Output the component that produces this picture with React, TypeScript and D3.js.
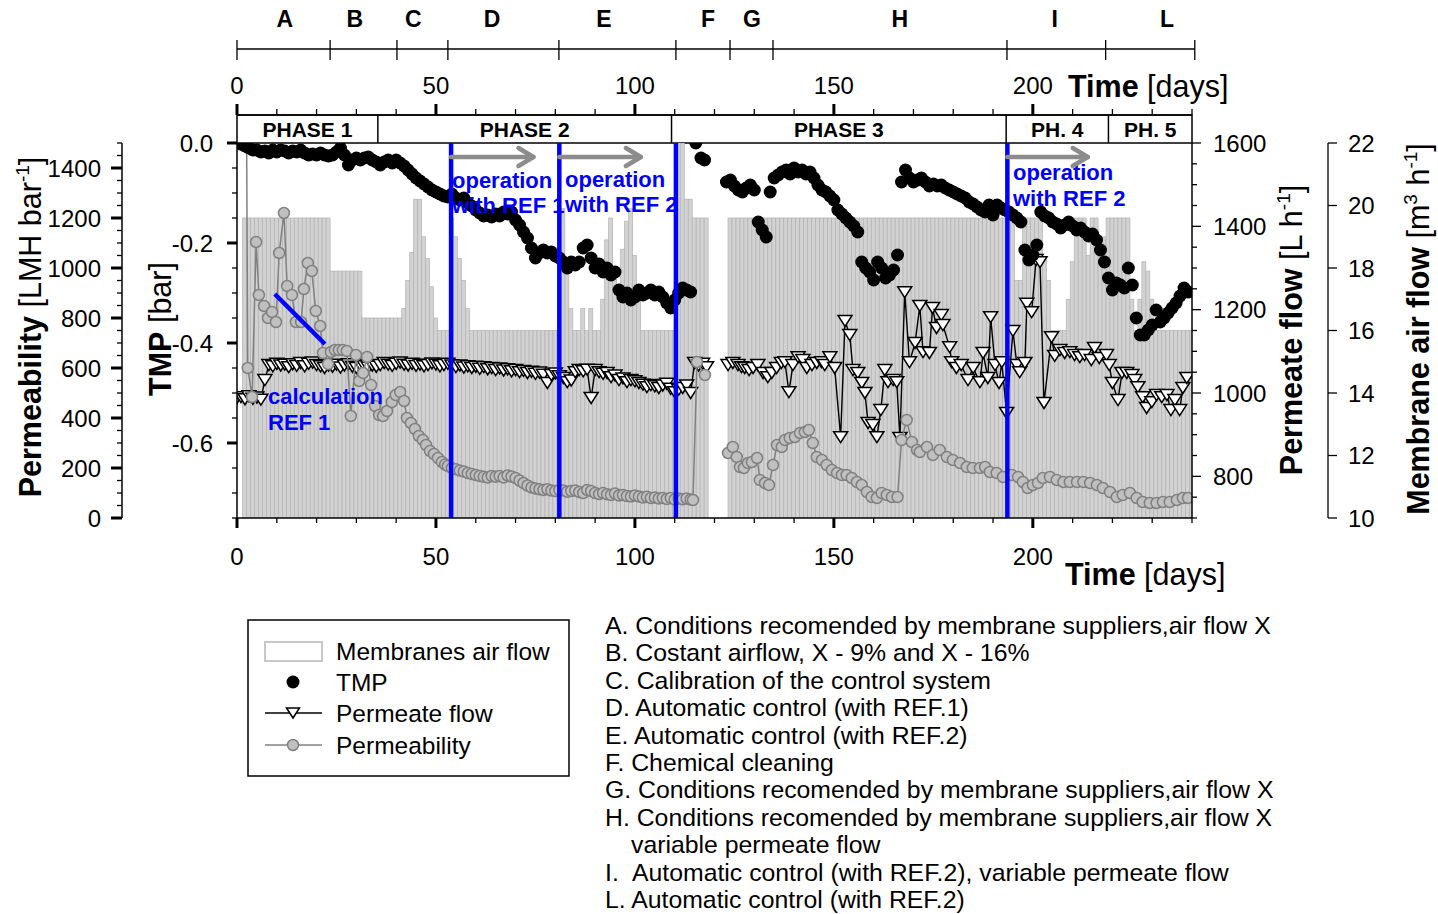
import React from "react";
import * as d3 from "d3";

const FONT = "'Liberation Sans', Arial, Helvetica, sans-serif";

// membrane air flow bars [first day, last day, m3/h]
const airFlowRuns: [number, number, number][] = [
  [1, 22, 19.6], [23, 30, 17.9], [31, 40, 16.4], [41, 41, 16.7], [42, 42, 17.6], [43, 43, 18.5],
  [44, 45, 20.2], [46, 46, 19.0], [47, 47, 18.3], [48, 48, 17.4], [49, 49, 16.4], [50, 52, 16.0],
  [53, 53, 19.6], [54, 54, 19.0], [55, 55, 18.3], [56, 56, 17.6], [57, 57, 16.7], [58, 80, 16.0],
  [81, 81, 19.9], [82, 82, 17.8], [83, 83, 16.7], [84, 85, 16.0], [86, 86, 16.7], [87, 87, 16.0],
  [88, 88, 16.7], [89, 90, 16.0], [91, 91, 17.0], [92, 92, 18.9], [93, 93, 19.6], [94, 94, 17.7],
  [95, 95, 17.4], [96, 96, 18.6], [97, 97, 19.5], [98, 98, 19.9], [99, 99, 18.4], [100, 100, 17.4],
  [101, 109, 16.0], [110, 111, 22.0], [112, 113, 20.2], [114, 117, 19.6],
  [123, 194, 19.6], [195, 196, 17.6], [197, 201, 19.6], [202, 202, 18.3], [203, 203, 17.6],
  [204, 207, 16.0], [208, 208, 17.0], [209, 209, 18.2], [210, 212, 19.6], [213, 213, 18.4],
  [214, 215, 19.6], [216, 217, 19.0], [218, 223, 19.6], [224, 224, 17.0], [225, 225, 16.0],
  [226, 226, 17.0], [227, 227, 18.2], [228, 228, 17.9], [229, 229, 17.0], [230, 239, 16.0],
];

// TMP [bar], daily from day 0
const tmpBefore = [
  0, -0.002, -0.006, -0.01, -0.014, -0.014, -0.018, -0.016, -0.02, -0.014,
  -0.018, -0.014, -0.016, -0.02, -0.016, -0.018, -0.014, -0.02, -0.024, -0.022,
  -0.024, -0.02, -0.024, -0.026, -0.024, -0.018, -0.01, -0.024, -0.044, -0.034,
  -0.03, -0.034, -0.03, -0.028, -0.034, -0.038, -0.044, -0.038, -0.034, -0.04,
  -0.034, -0.04, -0.046, -0.054, -0.062, -0.07, -0.076, -0.082, -0.088, -0.094,
  -0.098, -0.102, -0.106, -0.108, -0.102, -0.11, -0.114, -0.11, -0.12, -0.126,
  -0.134, -0.14, -0.146, -0.144, -0.148, -0.142, -0.146, -0.138, -0.142, -0.138,
  -0.154, -0.164, -0.178, -0.19, -0.21, -0.23, -0.22, -0.214, -0.22, -0.218,
  -0.226, -0.23, -0.238, -0.25, -0.238, -0.244, -0.238, -0.21, -0.204, -0.23,
  -0.25, -0.242, -0.258, -0.25, -0.264, -0.258, -0.294, -0.308, -0.3, -0.314,
  -0.308, -0.294, -0.304, -0.3, -0.294, -0.304, -0.298, -0.308, -0.32, -0.33,
  -0.314, -0.3, -0.29, -0.294, -0.298,
];
const tmpCleaning: [number, number][] = [[115.3, 0], [116.6, -0.03], [117.5, -0.034]];
// TMP [bar], daily from day 123
const tmpAfter = [
  -0.078, -0.074, -0.086, -0.094, -0.098, -0.09, -0.084, -0.094, -0.158, -0.174,
  -0.188, -0.098, -0.07, -0.064, -0.058, -0.054, -0.062, -0.05, -0.058, -0.054,
  -0.062, -0.058, -0.07, -0.084, -0.094, -0.098, -0.106, -0.114, -0.134, -0.142,
  -0.15, -0.158, -0.166, -0.178, -0.238, -0.25, -0.258, -0.274, -0.238, -0.25,
  -0.27, -0.264, -0.254, -0.224, -0.078, -0.054, -0.07, -0.078, -0.074, -0.07,
  -0.078, -0.086, -0.082, -0.086, -0.084, -0.09, -0.094, -0.098, -0.102, -0.106,
  -0.11, -0.118, -0.122, -0.128, -0.134, -0.138, -0.124, -0.144, -0.124, -0.13,
  -0.134, -0.138, -0.144, -0.15, -0.158, -0.214, -0.234, -0.224, -0.204, -0.138,
  -0.146, -0.15, -0.158, -0.162, -0.17, -0.164, -0.158, -0.166, -0.174, -0.17,
  -0.178, -0.186, -0.182, -0.194, -0.214, -0.238, -0.27, -0.294, -0.28, -0.284,
  -0.29, -0.25, -0.284, -0.35, -0.384, -0.384, -0.374, -0.364, -0.334, -0.358,
  -0.35, -0.34, -0.33, -0.32, -0.306, -0.29, -0.298,
];

// permeate flow [L/h], daily from day 0
const permeateBefore = [
  988, 990, 985, 992, 986, 989, 984, 1031, 1067, 1064,
  1070, 1066, 1068, 1062, 1069, 1065, 1072, 1064, 1070, 1073,
  1067, 1064, 1060, 1066, 1063, 1068, 1061, 1066, 1069, 1063,
  1060, 1067, 1064, 1061, 1066, 1063, 1067, 1072, 1068, 1065,
  1070, 1073, 1068, 1066, 1070, 1065, 1068, 1064, 1067, 1071,
  1068, 1064, 1067, 1070, 1066, 1062, 1066, 1061, 1064, 1060,
  1063, 1058, 1062, 1057, 1060, 1055, 1059, 1054, 1057, 1052,
  1055, 1050, 1053, 1048, 1051, 1046, 1049, 1044, 1024, 1043,
  1047, 1040, 1036, 1026, 1030, 1050, 1055, 1052, 1056, 988,
  1055, 1050, 1046, 1048, 1038, 1042, 1031, 1035, 1026, 1031,
  1028, 1024, 1020, 1014, 1019, 1016, 1012, 1018, 1022, 1010,
  1002, 1008, 1012, 1018, 1000, 1072, 1066, 1070, 1062,
];
// permeate flow [L/h], phases 3-5 [day, value]
const permeateAfter: [number, number][] = [
  [123.4, 1067], [124.6, 1072], [125.9, 1067], [126.8, 1062], [127.6, 1060], [128.7, 1055],
  [129.7, 1060], [130.9, 1067], [132.2, 1048], [133.4, 1038], [134.4, 1048], [135.6, 1060],
  [136.8, 1072], [137.7, 1074], [138.7, 1002], [139.7, 1067], [141, 1086], [142.2, 1079],
  [143.2, 1060], [144.5, 1067], [145.7, 1072], [146.9, 1074], [147.7, 1067], [149, 1086],
  [150.2, 1060], [151.7, 894], [152.8, 1173], [154, 1139], [154.8, 1055], [156, 1048],
  [157, 1024], [157.8, 1000], [158.6, 928], [159.8, 923], [160.8, 894], [161.8, 959],
  [162.8, 1055], [163.6, 1026], [164.9, 1031], [165.8, 1026], [166.6, 892], [167.8, 1242],
  [169, 1074], [170.4, 1120], [171.6, 1209], [172.4, 1098], [174, 1096], [174.8, 1204],
  [175.8, 1156], [177, 1187], [177.4, 1163], [179.1, 1110], [179.6, 1074], [180.8, 1060],
  [182, 1067], [183.7, 1031], [185, 1060], [186.7, 1026], [187.5, 1096], [188.7, 1036],
  [189.4, 1182], [190.5, 1067], [191.5, 1024], [192.2, 1074], [193.4, 952], [195, 1149],
  [196, 1067], [196.7, 1050], [198, 1072], [198.5, 1214], [199.7, 1194], [200.8, 1319],
  [201.8, 1314], [202.8, 976], [204.7, 1134], [205.5, 1089], [206.8, 1103], [208, 1096],
  [209.3, 1098], [210.5, 1091], [211.8, 1086], [213, 1091], [214.7, 1079], [215.5, 1108],
  [216.7, 1084], [218.5, 1091], [219.2, 1067], [220, 1024], [221.4, 983], [222.4, 1048],
  [223.6, 1048], [224.9, 1043], [225.6, 1031], [226.4, 1014], [227.6, 990], [228.6, 964],
  [229.9, 978], [231.1, 995], [232.4, 990], [233.7, 995], [234.7, 959], [235.7, 983],
  [236.9, 959], [237.7, 1012], [238.7, 1036],
];

// permeability [LMH/bar], phase 1 [day, value]
const permeabilityStart: [number, number][] = [
  [2.3, 1900], [2.7, 600], [3.8, 484], [4.8, 1104], [5.5, 892], [6.8, 848], [7.8, 800],
  [8.8, 824], [9.8, 784], [10.6, 1060], [11.8, 1220], [12.6, 928], [13.8, 892], [14.8, 784],
  [16.1, 784], [16.8, 916], [17.8, 1020], [18.8, 988], [19.8, 828], [20.9, 768], [21.6, 660],
  [22.9, 616], [23.6, 664], [24.6, 672], [25.6, 672], [26.6, 672], [27.6, 668], [28.6, 408],
  [29.9, 652], [30.7, 548], [31.7, 580], [32.7, 644], [33.7, 532], [34.7, 448], [35.7, 412],
  [36.7, 408], [37.7, 428], [38.9, 464], [39.9, 492], [41, 504], [42, 468], [42.7, 400],
  [43.7, 380], [44.7, 356], [45.7, 328], [46.7, 312], [47.5, 292], [48.5, 268], [49.5, 256],
  [50.5, 240], [51.5, 224], [52.3, 214],
];
// permeability, daily from day 53
const permeabilityDaily = [
  208, 200, 195, 190, 186, 180, 176, 172, 168, 165,
  162, 168, 165, 168, 162, 170, 166, 160, 150, 140,
  130, 122, 118, 115, 112, 115, 110, 108, 112, 110,
  105, 108, 110, 104, 100, 112, 108, 100, 96, 100,
  95, 92, 98, 90, 92, 88, 86, 90, 86, 82,
  85, 80, 82, 78, 80, 76, 80, 74, 78, 75,
  78, 74,
];
const permeabilityCleaning: [number, number][] = [[114.6, 72], [115.6, 624], [117.6, 572]];
const permeabilityAfter: [number, number][] = [
  [123.4, 260], [124.6, 284], [125.6, 244], [126.4, 204], [127.4, 200], [128.4, 220],
  [129.4, 224], [130.7, 240], [131.4, 152], [132.7, 140], [133.7, 132], [134.7, 212],
  [135.7, 292], [136.9, 284], [137.7, 312], [138.9, 320], [140.2, 324], [141.5, 340],
  [142.7, 344], [143.7, 352], [144.7, 300], [145.7, 244], [147, 232], [148.2, 212],
  [149.5, 192], [150.8, 180], [152, 172], [153.2, 172], [154.5, 160], [155.8, 144],
  [157, 132], [158.3, 104], [159.5, 84], [160.8, 80], [162, 100], [163.3, 92],
  [164.6, 84], [166, 84], [167, 312], [168.3, 392], [169.6, 304], [170.9, 272],
  [171.6, 264], [173.4, 284], [174.9, 252], [176.6, 272], [178.4, 244], [179.9, 232],
  [181.7, 220], [183.4, 204], [184.9, 200], [186.7, 200], [188, 204], [189.2, 184],
  [190.9, 180], [192.5, 164], [194.7, 172], [196.3, 164], [197.5, 144], [198.7, 120],
  [200, 132], [201.3, 140], [202.5, 160], [204.3, 164], [206, 152], [207.7, 144],
  [209.3, 144], [211.1, 144], [212.7, 144], [214.4, 140], [216.1, 132], [217.6, 120],
  [219.4, 104], [221.1, 84], [222.6, 92], [224.4, 100], [226.1, 80], [227.6, 64],
  [229.4, 60], [231.1, 60], [232.7, 64], [234.4, 64], [236.2, 72], [237.7, 80], [239, 80],
];

// period letters on the top scale
const periodBounds = [0, 23.4, 40.2, 53.0, 80.9, 110.3, 123.9, 134.7, 193.5, 218.3, 240.7];
const periodLetters = ["A", "B", "C", "D", "E", "F", "G", "H", "I", "L"];
const periodLabelDays = [12, 29.6, 44.3, 64.1, 92.2, 118.4, 129.4, 166.6, 205.5, 233.7];

const phaseBounds = [0, 35.4, 109.2, 193.3, 219.0, 240];
const phaseNames = ["PHASE 1", "PHASE 2", "PHASE 3", "PH. 4", "PH. 5"];

const refLineDays = [53.8, 81.0, 110.3, 193.6];
const arrowSpans: [number, number][] = [[53.8, 74.5], [81.0, 101.5], [193.6, 213.8]];

const descriptions = [
  "A. Conditions recomended by membrane suppliers,air flow X",
  "B. Costant airflow, X - 9% and X - 16%",
  "C. Calibration of the control system",
  "D. Automatic control (with REF.1)",
  "E. Automatic control (with REF.2)",
  "F. Chemical cleaning",
  "G. Conditions recomended by membrane suppliers,air flow X",
  "H. Conditions recomended by membrane suppliers,air flow X",
  "variable permeate flow",
  "I.",
  "L. Automatic control (with REF.2)",
];

const L = 237, R = 1192, T = 143, B = 518;
const x = d3.scaleLinear().domain([0, 240]).range([L, R]);
const yTmp = d3.scaleLinear().domain([0, -0.75]).range([T, B]);
const yPerm = d3.scaleLinear().domain([0, 1500]).range([B, T]);
const yFlow = d3.scaleLinear().domain([700, 1600]).range([B, T]);
const yAir = d3.scaleLinear().domain([10, 22]).range([B, T]);

function splitGaps(pts: [number, number][]) {
  const out: [number, number][][] = [[]];
  pts.forEach((p, i) => {
    if (i > 0 && p[0] - pts[i - 1][0] > 3) out.push([]);
    out[out.length - 1].push(p);
  });
  return out;
}

const tri = "M-7,-5.5L7,-5.5L0,5.5Z";

export default function App() {
  const airBars: [number, number][] = [];
  airFlowRuns.forEach(([a, b, v]) => d3.range(a, b + 1).forEach((d) => airBars.push([d, v])));

  const tmpPts: [number, number][] = [
    ...tmpBefore.map((v, i) => [i, v] as [number, number]),
    ...tmpCleaning,
    ...tmpAfter.map((v, i) => [123 + i, v] as [number, number]),
  ];
  const permeatePts: [number, number][] = [
    ...permeateBefore.map((v, i) => [i, v] as [number, number]),
    ...permeateAfter,
  ];
  const permPts: [number, number][] = [
    ...permeabilityStart,
    ...permeabilityDaily.map((v, i) => [53 + i, v] as [number, number]),
    ...permeabilityCleaning,
    ...permeabilityAfter,
  ];

  const flowLine = d3.line<[number, number]>().x((d) => x(d[0])).y((d) => yFlow(d[1]));
  const permLine = d3.line<[number, number]>().x((d) => x(d[0])).y((d) => yPerm(d[1]));

  const dayTicks = d3.range(0, 241, 10);
  const tmpTicks = d3.range(0, 16).map((i) => -i * 0.05);
  const permTicks = d3.range(0, 1501, 50);
  const flowTicks = d3.range(700, 1601, 50);
  const airTicks = d3.range(10, 23, 2);

  const blue = "#0000ff";
  const arrowY = 157;
  const titleSize = 30.5;

  return (
    <svg width={1438} height={914} style={{ position: "absolute", left: 0, top: 0, background: "#fff" }} fontFamily={FONT}>
      <defs>
        <clipPath id="plot">
          <rect x={L} y={T} width={R - L} height={B - T} />
        </clipPath>
      </defs>

      {/* period scale */}
      <line x1={x(0)} x2={x(240.7)} y1={49} y2={49} stroke="#000" strokeWidth={1.3} />
      {periodBounds.map((d, i) => (
        <line key={i} x1={x(d)} x2={x(d)} y1={40} y2={60} stroke="#000" strokeWidth={1.3} />
      ))}
      {periodLetters.map((l, i) => (
        <text key={l} x={x(periodLabelDays[i])} y={27} fontSize={23} fontWeight="bold" textAnchor="middle">{l}</text>
      ))}

      {/* top time axis */}
      <line x1={L} x2={R} y1={115} y2={115} stroke="#000" strokeWidth={1.5} />
      {dayTicks.map((d) => (
        <line key={d} x1={x(d)} x2={x(d)} y1={115} y2={d % 50 === 0 ? 104 : 109} stroke="#000" strokeWidth={d % 50 === 0 ? 3 : 1.3} />
      ))}
      {dayTicks.filter((d) => d % 50 === 0).map((d) => (
        <text key={d} x={x(d)} y={94} fontSize={24} textAnchor="middle">{d}</text>
      ))}
      <text x={1068} y={97} fontSize={titleSize}>
        <tspan fontWeight="bold">Time</tspan><tspan> [days]</tspan>
      </text>

      {/* phase boxes */}
      <rect x={L} y={115} width={R - L} height={T - 115} fill="none" stroke="#000" strokeWidth={1.5} />
      {phaseBounds.slice(1, -1).map((d) => (
        <line key={d} x1={x(d)} x2={x(d)} y1={115} y2={T} stroke="#000" strokeWidth={1.5} />
      ))}
      {phaseNames.map((n, i) => (
        <text key={n} x={(x(phaseBounds[i]) + x(phaseBounds[i + 1])) / 2} y={137} fontSize={21} fontWeight="bold" textAnchor="middle">{n}</text>
      ))}

      <g clipPath="url(#plot)">
        {/* air flow bars */}
        {airBars.map(([d, v]) => (
          <rect key={d} x={x(d + 0.4)} y={yAir(v)} width={x(d + 1.4) - x(d + 0.4)} height={yAir(10) - yAir(v)}
            fill="#d2d2d2" stroke="#b3b3b3" strokeWidth={0.7} />
        ))}

        {/* permeate flow */}
        {splitGaps(permeatePts).map((s, i) => (
          <path key={i} d={flowLine(s) || ""} fill="none" stroke="#000" strokeWidth={1.4} />
        ))}
        {permeatePts.map(([d, v], i) => (
          <path key={i} d={tri} transform={`translate(${x(d)},${yFlow(v)})`} fill="#fff" stroke="#000" strokeWidth={1.5} />
        ))}

        {/* permeability */}
        {splitGaps(permPts).map((s, i) => (
          <path key={i} d={permLine(s) || ""} fill="none" stroke="#808080" strokeWidth={1.5} />
        ))}
        {permPts.map(([d, v], i) => (
          <circle key={i} cx={x(d)} cy={yPerm(v)} r={5.5} fill="#c0c0c0" stroke="#808080" strokeWidth={1.5} />
        ))}

        {/* TMP */}
        {tmpPts.map(([d, v], i) => (
          <circle key={i} cx={x(d)} cy={yTmp(v)} r={6.5} fill="#000" />
        ))}

        {/* calculation REF 1 mark */}
        <line x1={x(9.5)} y1={yPerm(896)} x2={x(22.1)} y2={yPerm(696)} stroke={blue} strokeWidth={4.5} />
      </g>

      {/* blue annotations */}
      <g fill={blue} fontSize={22} fontWeight="bold">
        <text x={452} y={188}>operation</text>
        <text x={452} y={213}>with REF 1</text>
        <text x={565} y={187}>operation</text>
        <text x={565} y={212}>with REF 2</text>
        <text x={1013} y={180}>operation</text>
        <text x={1013} y={206}>with REF 2</text>
        <text x={268} y={404}>calculation</text>
        <text x={268} y={430}>REF 1</text>
      </g>
      {refLineDays.map((d) => (
        <line key={d} x1={x(d)} x2={x(d)} y1={T} y2={B} stroke={blue} strokeWidth={4.5} />
      ))}
      {arrowSpans.map(([a, b]) => (
        <g key={a} stroke="#8c8c8c" strokeWidth={4.5} fill="none" strokeLinecap="round" strokeLinejoin="round">
          <line x1={x(a)} x2={x(b)} y1={arrowY} y2={arrowY} />
          <polyline points={`${x(b) - 15},${arrowY - 9} ${x(b)},${arrowY} ${x(b) - 15},${arrowY + 9}`} />
        </g>
      ))}

      {/* bottom time axis */}
      <line x1={L} x2={R} y1={B} y2={B} stroke="#000" strokeWidth={1.5} />
      {dayTicks.map((d) => (
        <line key={d} x1={x(d)} x2={x(d)} y1={B} y2={d % 50 === 0 ? B + 10 : B + 5} stroke="#000" strokeWidth={d % 50 === 0 ? 3 : 1.3} />
      ))}
      {dayTicks.filter((d) => d % 50 === 0).map((d) => (
        <text key={d} x={x(d)} y={565} fontSize={24} textAnchor="middle">{d}</text>
      ))}
      <text x={1065} y={585} fontSize={titleSize}>
        <tspan fontWeight="bold">Time</tspan><tspan> [days]</tspan>
      </text>

      {/* TMP axis */}
      <line x1={L} x2={L} y1={T} y2={B} stroke="#000" strokeWidth={1.5} />
      {tmpTicks.map((v, i) => (
        <line key={i} x1={L} x2={i % 4 === 0 ? L - 10 : L - 5} y1={yTmp(v)} y2={yTmp(v)} stroke="#000" strokeWidth={i % 4 === 0 ? 3 : 1.3} />
      ))}
      {tmpTicks.filter((_, i) => i % 4 === 0).map((v) => (
        <text key={v} x={213} y={yTmp(v) + 8.5} fontSize={24} textAnchor="end">{v === 0 ? "0.0" : v.toFixed(1)}</text>
      ))}
      <text transform="translate(171,329) rotate(-90)" fontSize={titleSize} textAnchor="middle">
        <tspan fontWeight="bold">TMP</tspan><tspan> [bar]</tspan>
      </text>

      {/* permeability axis */}
      <line x1={122} x2={122} y1={T} y2={B} stroke="#000" strokeWidth={1.5} />
      {permTicks.map((v) => (
        <line key={v} x1={122} x2={v % 200 === 0 ? 111 : 117} y1={yPerm(v)} y2={yPerm(v)} stroke="#000" strokeWidth={v % 200 === 0 ? 3 : 1.3} />
      ))}
      {permTicks.filter((v) => v % 200 === 0).map((v) => (
        <text key={v} x={101} y={yPerm(v) + 8.5} fontSize={24} textAnchor="end">{v}</text>
      ))}
      <text transform="translate(41,327) rotate(-90)" fontSize={titleSize} textAnchor="middle">
        <tspan fontWeight="bold">Permeability</tspan><tspan> [LMH bar</tspan>
        <tspan fontSize={19} dy={-12}>-1</tspan><tspan dy={12}>]</tspan>
      </text>

      {/* permeate flow axis */}
      <line x1={R} x2={R} y1={T} y2={B} stroke="#000" strokeWidth={1.5} />
      {flowTicks.map((v) => (
        <line key={v} x1={R} x2={v % 200 === 0 ? R + 9 : R + 5} y1={yFlow(v)} y2={yFlow(v)} stroke="#000" strokeWidth={1.3} />
      ))}
      {flowTicks.filter((v) => v % 200 === 0).map((v) => (
        <text key={v} x={1213} y={yFlow(v) + 8.5} fontSize={24}>{v}</text>
      ))}
      <text transform="translate(1302,330) rotate(-90)" fontSize={titleSize} textAnchor="middle">
        <tspan fontWeight="bold">Permeate flow</tspan><tspan> [L h</tspan>
        <tspan fontSize={19} dy={-12}>-1</tspan><tspan dy={12}>]</tspan>
      </text>

      {/* air flow axis */}
      <line x1={1328} x2={1328} y1={T} y2={B} stroke="#000" strokeWidth={1.3} />
      {airTicks.map((v) => (
        <line key={v} x1={1328} x2={1337} y1={yAir(v)} y2={yAir(v)} stroke="#000" strokeWidth={1.3} />
      ))}
      {airTicks.map((v) => (
        <text key={v} x={1348} y={yAir(v) + 8.5} fontSize={24}>{v}</text>
      ))}
      <text transform="translate(1429,329) rotate(-90)" fontSize={titleSize} textAnchor="middle">
        <tspan fontWeight="bold">Membrane air flow</tspan><tspan> [m</tspan>
        <tspan fontSize={19} dy={-12}>3</tspan><tspan dy={12}> h</tspan>
        <tspan fontSize={19} dy={-12}>-1</tspan><tspan dy={12}>]</tspan>
      </text>

      {/* legend */}
      <rect x={248} y={620} width={321} height={156} fill="#fff" stroke="#000" strokeWidth={1.5} />
      <rect x={265} y={642} width={57} height={19} fill="#fff" stroke="#c8c8c8" strokeWidth={2} />
      <circle cx={293} cy={682} r={6.5} fill="#000" />
      <line x1={265} x2={322} y1={713} y2={713} stroke="#000" strokeWidth={1.4} />
      <path d="M-6.5,-5L6.5,-5L0,5Z" transform="translate(293,713)" fill="#fff" stroke="#000" strokeWidth={1.5} />
      <line x1={265} x2={322} y1={745} y2={745} stroke="#808080" strokeWidth={1.5} />
      <circle cx={293} cy={745} r={5.5} fill="#c0c0c0" stroke="#808080" strokeWidth={1.5} />
      <g fontSize={24.5}>
        <text x={336} y={660}>Membranes air flow</text>
        <text x={336} y={691}>TMP</text>
        <text x={336} y={722}>Permeate flow</text>
        <text x={336} y={754}>Permeability</text>
      </g>

      {/* period descriptions */}
      <g fontSize={24.8}>
        {descriptions.map((t, i) => (
          <text key={i} x={t === "variable permeate flow" ? 631 : 605} y={634 + i * 27.4}>{t}</text>
        ))}
        <text x={632} y={634 + 9 * 27.4}>Automatic control (with REF.2), variable permeate flow</text>
      </g>
    </svg>
  );
}
